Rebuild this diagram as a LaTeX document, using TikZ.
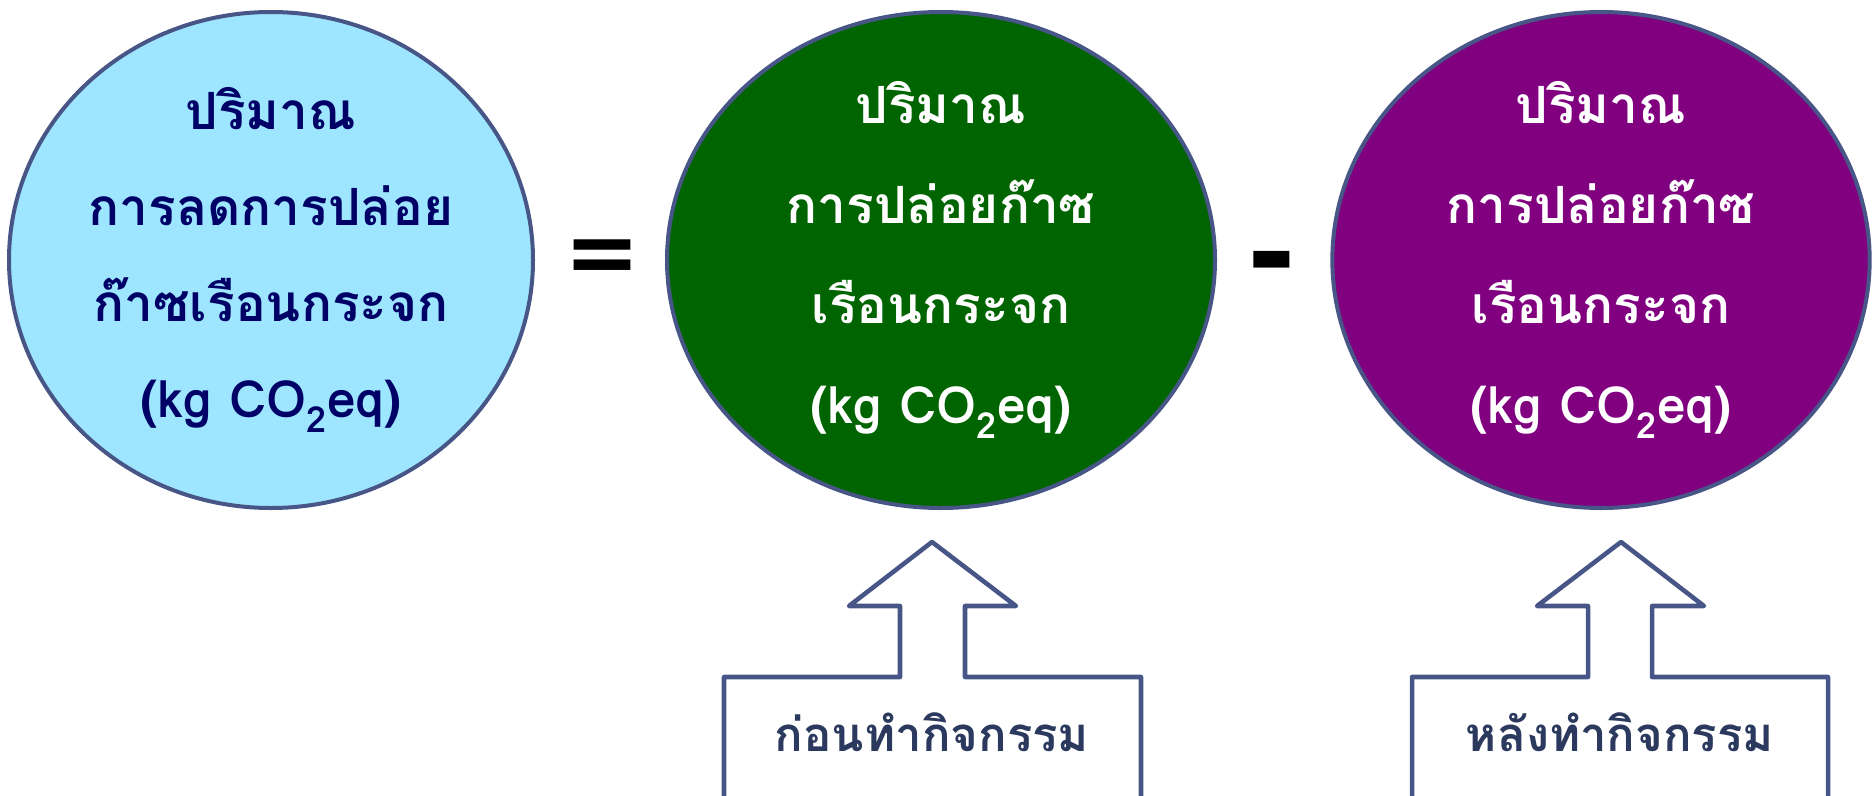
\documentclass[tikz,border=0pt]{standalone}
\usepackage{fontspec}
\newfontfamily\thaifont[Script=Thai]{Loma}
\newfontfamily\signfont{DejaVu Sans}
\usetikzlibrary{shapes.geometric}
\definecolor{edgeblue}{RGB}{71,85,135}
\definecolor{skyfill}{RGB}{158,230,255}
\definecolor{navytext}{RGB}{0,0,102}
\definecolor{leafgreen}{RGB}{0,100,0}
\definecolor{plum}{RGB}{128,0,128}
\definecolor{slatetext}{RGB}{43,57,94}

\begin{document}
\begin{tikzpicture}[x=0.75pt,y=0.75pt,yscale=-1,xscale=1,
  blob/.style={ellipse, draw=edgeblue, line width=3pt, inner sep=0pt},
  blobtext/.style={align=center, inner sep=0pt, font=\thaifont\bfseries\fontsize{38.5}{72}\selectfont},
  upbox/.style={draw=edgeblue, line width=3.4pt, line join=round},
  boxtext/.style={anchor=base, text=slatetext, font=\thaifont\bfseries\fontsize{35.5}{48}\selectfont},
  sign/.style={inner sep=0pt, font=\signfont\bfseries}]
\useasboundingbox (0,0) rectangle (1874,796);
\clip (0,0) rectangle (1874,796);

%Shape: Ellipse [reduction]
\node [blob, fill=skyfill, minimum width=393pt, minimum height=372pt] (reduce) at (271,260) {};
%Shape: Ellipse [before]
\node [blob, fill=leafgreen, minimum width=411pt, minimum height=372pt] (emitbefore) at (941,260) {};
%Shape: Ellipse [after]
\node [blob, fill=plum, minimum width=403pt, minimum height=372pt] (emitafter) at (1601,260) {};

% Text Node
\node [blobtext, text=navytext] (reducelbl) at (reduce.center) {ปริมาณ\\การลดการปล่อย\\ก๊าซเรือนกระจก\\(kg CO\textsubscript{2}eq)};
% Text Node
\node [blobtext, text=white, font=\thaifont\bfseries\fontsize{38.5}{75}\selectfont] (beforeval) at (emitbefore.center) {ปริมาณ\\การปล่อยก๊าซ\\เรือนกระจก\\(kg CO\textsubscript{2}eq)};
% Text Node
\node [blobtext, text=white, font=\thaifont\bfseries\fontsize{38.5}{75}\selectfont] (afterval) at (emitafter.center) {ปริมาณ\\การปล่อยก๊าซ\\เรือนกระจก\\(kg CO\textsubscript{2}eq)};

% Text Node
\node [sign, font=\signfont\bfseries\fontsize{68}{68}\selectfont] (equals) at (602,262) {=};
% Text Node
\node [sign, font=\signfont\bfseries\fontsize{88}{88}\selectfont] (minus) at (1272,272) {-};

%Shape: Up Arrow Callout [before]
\draw [upbox] (724,830) -- (724,677) -- (900,677) -- (900,606) -- (849,606) -- (932,542) -- (1016,606) -- (965,606) -- (965,677) -- (1141,677) -- (1141,830) ;
%Shape: Up Arrow Callout [after]
\draw [upbox] (1412,830) -- (1412,677) -- (1588,677) -- (1588,606) -- (1537,606) -- (1621,542) -- (1704,606) -- (1652,606) -- (1652,677) -- (1828,677) -- (1828,830) ;

% Text Node
\node [boxtext] (beforelbl) at (932,751) {ก่อนทำกิจกรรม};
% Text Node
\node [boxtext] (afterlbl) at (1620,751) {หลังทำกิจกรรม};

\end{tikzpicture}
\end{document}
